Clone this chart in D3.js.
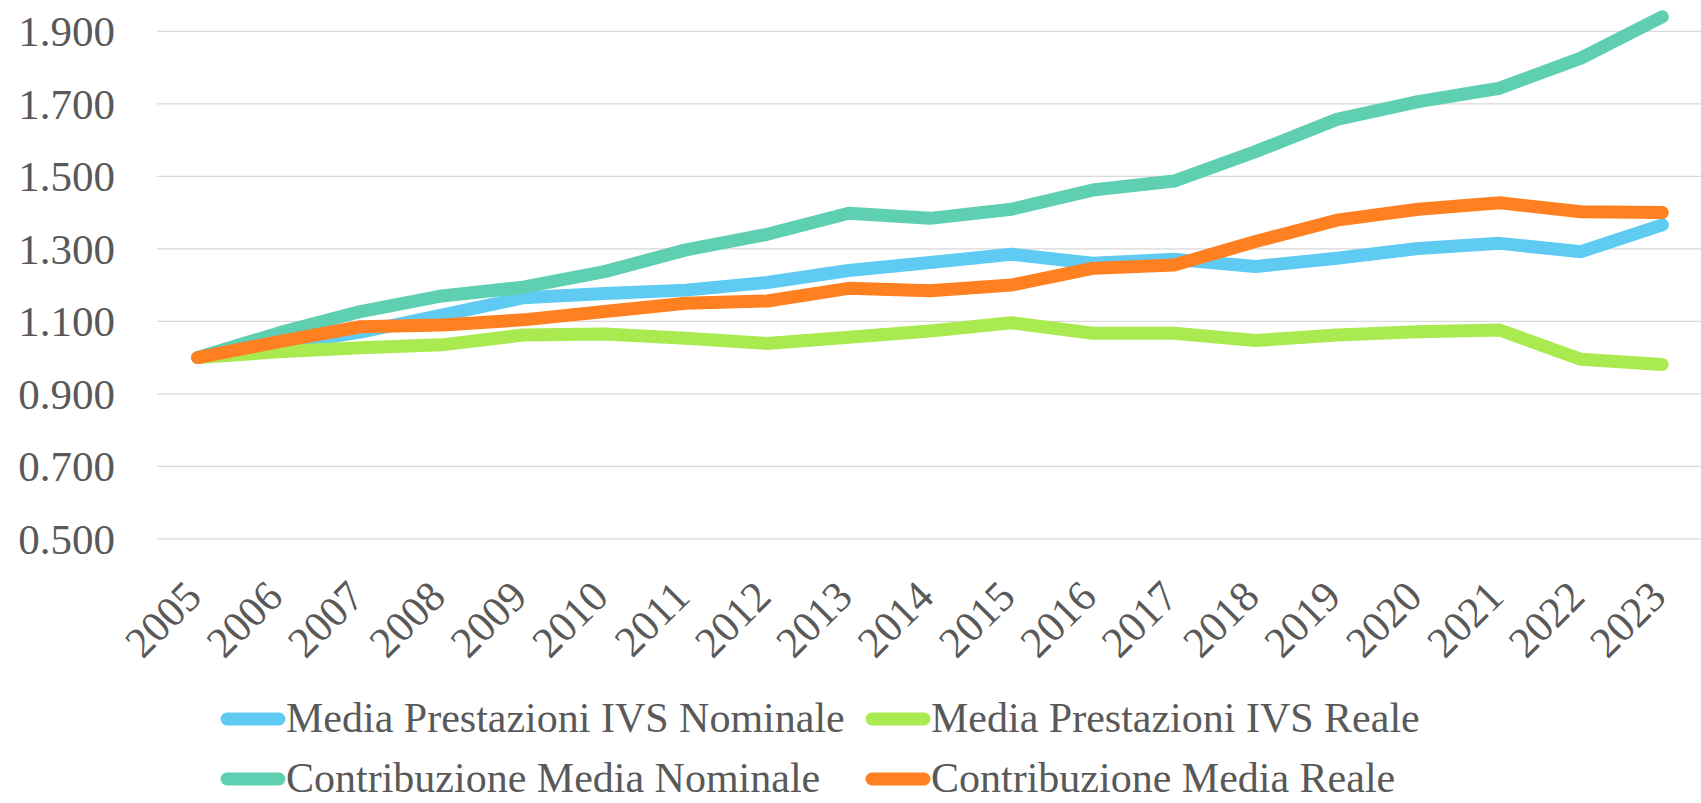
<!DOCTYPE html>
<html>
<head>
<meta charset="utf-8">
<script src="https://cdnjs.cloudflare.com/ajax/libs/d3/7.8.5/d3.min.js"></script>
<style>
  body { margin: 0; background: #ffffff; }
  svg { display: block; }
  .tickLabel, .legendText { font-family: "Liberation Serif", "DejaVu Serif", serif; fill: #595959; }
</style>
</head>
<body>
<script>
// Years on the x axis
var years = ["2005", "2006", "2007", "2008", "2009", "2010", "2011", "2012", "2013", "2014",
             "2015", "2016", "2017", "2018", "2019", "2020", "2021", "2022", "2023"];

// Series values (index, 2005 = 1)
var prestNominale = [1.000, 1.035, 1.070, 1.117, 1.165, 1.177, 1.186, 1.207, 1.240, 1.262,
                     1.285, 1.260, 1.271, 1.251, 1.274, 1.301, 1.315, 1.292, 1.366];
var prestReale = [1.000, 1.016, 1.027, 1.035, 1.062, 1.065, 1.053, 1.039, 1.056, 1.073,
                  1.096, 1.067, 1.067, 1.047, 1.062, 1.071, 1.076, 0.995, 0.981];
var contribNominale = [1.000, 1.068, 1.127, 1.170, 1.194, 1.237, 1.297, 1.340, 1.398, 1.384,
                       1.409, 1.462, 1.487, 1.568, 1.657, 1.706, 1.743, 1.826, 1.940];
var contribReale = [1.000, 1.044, 1.085, 1.090, 1.104, 1.127, 1.150, 1.156, 1.191, 1.184,
                    1.200, 1.246, 1.255, 1.320, 1.379, 1.409, 1.427, 1.402, 1.400];

// Y axis ticks and series names
var yTicks = [0.5, 0.7, 0.9, 1.1, 1.3, 1.5, 1.7, 1.9];
var seriesNames = ["Media Prestazioni IVS Nominale", "Media Prestazioni IVS Reale",
                   "Contribuzione Media Nominale", "Contribuzione Media Reale"];

var width = 1701, height = 803;
var plot = {left: 157, right: 1703, top: 31.3, bottom: 538.8};

var colors = ["#5fcbf2", "#a9ea50", "#5ecfb1", "#ff8021"];
var series = [prestNominale, prestReale, contribNominale, contribReale];

var svg = d3.select("body")
            .append("svg")
            .attr("width", width)
            .attr("height", height);

var x = d3.scalePoint()
          .domain(years)
          .range([plot.left, plot.right])
          .padding(0.5);

var y = d3.scaleLinear()
          .domain([0.5, 1.9])
          .range([plot.bottom, plot.top]);

var format = d3.format(".3f");

// Horizontal gridlines
svg.append("g")
   .selectAll("line")
   .data(yTicks)
   .enter()
   .append("line")
   .attr("x1", plot.left)
   .attr("x2", plot.right)
   .attr("y1", function(d){ return y(d); })
   .attr("y2", function(d){ return y(d); })
   .style("stroke", "#d9d9d9")
   .style("stroke-width", 1.3);

// Y axis labels
svg.append("g")
   .selectAll("text")
   .data(yTicks)
   .enter()
   .append("text")
   .attr("class", "tickLabel")
   .attr("x", 115)
   .attr("y", function(d){ return y(d); })
   .attr("dy", "0.35em")
   .attr("text-anchor", "end")
   .style("font-size", "43px")
   .text(function(d){ return format(d); });

// X axis labels, rotated
svg.append("g")
   .selectAll("text")
   .data(years)
   .enter()
   .append("text")
   .attr("class", "tickLabel")
   .attr("text-anchor", "end")
   .attr("transform", function(d){ return "translate(" + (x(d) + 6) + ",599) rotate(-45)"; })
   .style("font-size", "43px")
   .text(function(d){ return d; });

// Lines
var line = d3.line()
             .x(function(d, i){ return x(years[i]); })
             .y(function(d){ return y(d); });

svg.append("g")
   .selectAll("path")
   .data(series)
   .enter()
   .append("path")
   .attr("d", line)
   .style("fill", "none")
   .style("stroke", function(d, i){ return colors[i]; })
   .style("stroke-width", 13)
   .style("stroke-linecap", "round")
   .style("stroke-linejoin", "round");

// Legend, two rows of two
var legendPos = [{x: 221, y: 719}, {x: 866, y: 719}, {x: 221, y: 779}, {x: 866, y: 779}];

var legend = svg.append("g")
                .selectAll("g")
                .data(seriesNames)
                .enter()
                .append("g")
                .attr("transform", function(d, i){ return "translate(" + legendPos[i].x + "," + legendPos[i].y + ")"; });

legend.append("line")
      .attr("x1", 6)
      .attr("x2", 58)
      .attr("y1", 0)
      .attr("y2", 0)
      .style("stroke", function(d, i){ return colors[i]; })
      .style("stroke-width", 13)
      .style("stroke-linecap", "round");

legend.append("text")
      .attr("class", "legendText")
      .attr("x", 65)
      .attr("y", 13)
      .style("font-size", "42px")
      .text(function(d){ return d; });
</script>
</body>
</html>
